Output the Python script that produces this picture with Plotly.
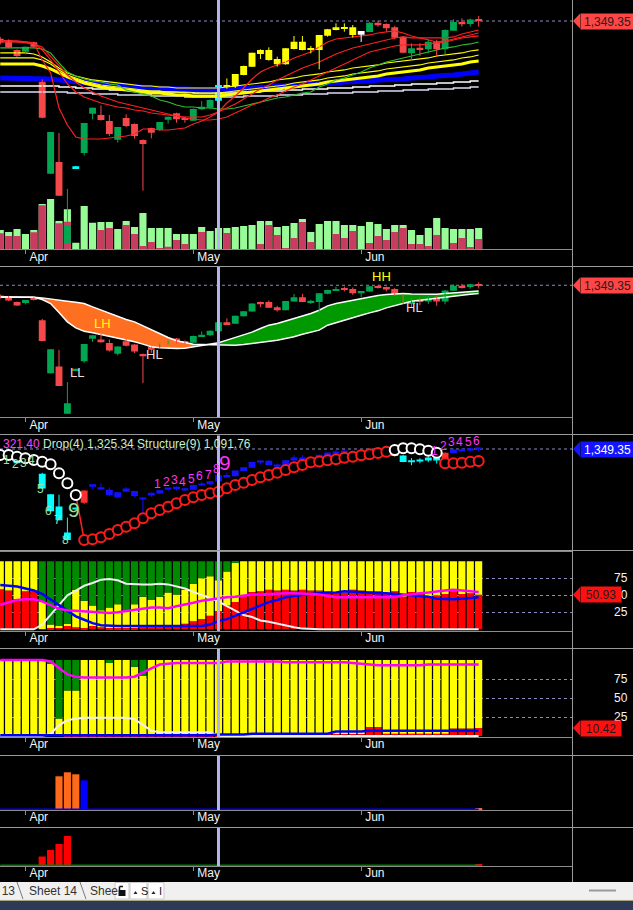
import plotly.graph_objects as go

# ------------------------------------------------------------------ data
bars = list(range(58))
month_names = ['Apr', 'May', 'Jun']
month_bars = [3, 23, 43]
cursor_bar = 26
last_close = 1349.35

opens = [1321.0, 1319.0, 1303.0, 1300.3, 1315.2, 1252.3, 1105.1, 1123.8, 992.8, 1114.0,
         1138.2, 1201.1, 1199.0, 1189.4, 1159.5, 1194.2, 1184.6, 1158.9, 1178.1, 1175.0,
         1191.5, 1201.6, 1193.6, 1189.9, 1208.0, 1210.7, 1221.9, 1246.9, 1242.7, 1263.0,
         1276.3, 1303.0, 1303.0, 1288.5, 1280.0, 1304.6, 1316.3, 1304.0, 1303.0, 1325.9,
         1335.0, 1339.0, 1339.2, 1327.5, 1331.8, 1346.7, 1344.5, 1339.2, 1324.3, 1297.6,
         1306.0, 1304.0, 1316.3, 1304.0, 1333.9, 1347.7, 1344.6, 1352.0]
highs = [1324.0, 1320.0, 1304.0, 1308.3, 1316.3, 1256.0, 1171.8, 1170.2, 1080.6, 1117.5,
         1186.2, 1210.7, 1214.4, 1199.0, 1179.7, 1200.0, 1185.6, 1160.0, 1178.7, 1187.8,
         1196.3, 1202.7, 1196.3, 1209.6, 1221.4, 1224.0, 1247.5, 1257.6, 1264.6, 1277.9,
         1298.7, 1304.0, 1307.2, 1292.3, 1306.0, 1325.4, 1325.4, 1309.3, 1327.0, 1336.6,
         1345.6, 1345.6, 1343.0, 1333.4, 1347.7, 1349.9, 1345.6, 1341.4, 1325.4, 1313.6,
         1313.6, 1320.0, 1318.9, 1336.0, 1352.0, 1353.6, 1353.1, 1357.4]
lows = [1312.0, 1306.0, 1292.0, 1296.0, 1307.2, 1193.6, 1105.0, 1069.9, 992.8, 1113.5,
        1133.9, 1192.0, 1189.9, 1165.4, 1154.7, 1179.7, 1161.1, 1077.9, 1161.6, 1173.9,
        1185.1, 1186.7, 1186.7, 1189.4, 1207.0, 1208.0, 1221.0, 1241.0, 1242.2, 1262.5,
        1275.8, 1288.5, 1285.9, 1276.3, 1279.5, 1304.0, 1302.5, 1297.6, 1272.0, 1324.3,
        1334.4, 1332.3, 1322.7, 1315.8, 1331.2, 1340.3, 1332.3, 1320.0, 1297.6, 1285.9,
        1293.4, 1297.6, 1292.3, 1296.5, 1333.4, 1340.3, 1340.3, 1340.3]
closes = [1315.0, 1307.2, 1293.4, 1308.3, 1308.3, 1194.7, 1171.8, 1069.9, 1021.6, 1117.0,
          1186.2, 1210.7, 1191.0, 1168.6, 1179.7, 1181.4, 1165.4, 1152.6, 1170.7, 1187.8,
          1196.3, 1192.0, 1191.5, 1208.6, 1212.3, 1222.9, 1246.9, 1241.6, 1264.6, 1277.4,
          1298.7, 1296.5, 1287.0, 1280.0, 1305.6, 1316.3, 1303.0, 1304.5, 1327.0, 1336.0,
          1339.2, 1338.5, 1327.0, 1333.4, 1346.7, 1342.4, 1337.6, 1322.7, 1298.7, 1305.6,
          1305.0, 1316.3, 1304.0, 1334.9, 1347.7, 1344.0, 1351.9, 1349.35]

# candle state in the top pane: b = by direction, c = flag, y = run, w = pause
price_state = 'bbb' 'bbb' 'bbb' 'c' 'bbbbbbbb' 'bbbbbbbb' 'c' 'yyyyyyyy' 'yyyyyyyy' 'w' 'bbbbbbb' 'bbbbbbb'
# candle state in the sequential pane: c = setup, r = break, b = count, y = pause
seq_state = 'ccccc' 'ccccc' 'r' 'bbbbbb' 'bbbbbb' 'bbbbbb' 'bbbbbb' 'bbbbbb' 'bbbbbb' 'y' 'ccccc' 'r' 'bbbb'

# volume, thousands
vol_total = [387, 347, 407, 307, 387, 907, 1007, 567, 800, 133,
             867, 533, 547, 547, 407, 567, 447, 727, 427, 427,
             427, 307, 307, 307, 447, 367, 427, 427, 447, 467,
             487, 567, 567, 447, 467, 527, 607, 347, 507, 567,
             567, 487, 487, 467, 547, 507, 407, 487, 487, 387,
             287, 427, 627, 427, 407, 407, 407, 427]
vol_down = [320, 267, 267, 0, 340, 880, 0, 520, 553, 0,
            0, 0, 387, 427, 0, 487, 307, 67, 147, 27,
            53, 187, 107, 0, 347, 0, 0, 327, 0, 0,
            0, 107, 487, 287, 27, 227, 547, 147, 0, 0,
            307, 227, 367, 0, 127, 267, 187, 347, 427, 107,
            107, 67, 287, 0, 127, 227, 47, 207]

ma_red_fast = [1317.4, 1317.4, 1317.4, 1315.8, 1314.2, 1287.0, 1266.2, 1210.2, 1183.0, 1163.8,
               1160.6, 1160.6, 1160.6, 1162.2, 1163.8, 1165.4, 1168.6, 1176.6, 1176.6, 1175.0,
               1175.0, 1176.6, 1178.2, 1184.6, 1189.4, 1195.8, 1203.8, 1218.2, 1229.4, 1242.2,
               1256.6, 1267.8, 1274.2, 1279.0, 1283.8, 1290.2, 1295.0, 1299.8, 1307.8, 1315.8,
               1320.6, 1322.2, 1323.8, 1325.4, 1327.0, 1330.2, 1331.8, 1333.4, 1330.2, 1325.4,
               1322.2, 1322.2, 1322.2, 1322.2, 1323.8, 1328.6, 1331.8, 1335.0]
ma_red_mid = [1317.4, 1317.4, 1315.8, 1315.8, 1314.2, 1303.0, 1287.0, 1267.8, 1248.6, 1235.8,
              1227.8, 1223.0, 1218.2, 1215.0, 1211.8, 1210.2, 1207.0, 1205.4, 1202.2, 1200.6,
              1199.0, 1197.4, 1195.8, 1195.8, 1195.8, 1199.0, 1203.8, 1210.2, 1216.6, 1224.6,
              1232.6, 1240.6, 1247.0, 1255.0, 1261.4, 1267.8, 1274.2, 1279.0, 1283.8, 1290.2,
              1296.6, 1301.4, 1306.2, 1309.4, 1312.6, 1315.8, 1319.0, 1322.2, 1323.8, 1322.2,
              1322.2, 1319.0, 1315.8, 1317.4, 1320.6, 1323.8, 1327.0, 1330.2]
ma_red_slow = [1315.8, 1315.8, 1315.8, 1314.2, 1312.6, 1307.8, 1293.4, 1277.4, 1263.0, 1251.8,
               1242.2, 1235.8, 1229.4, 1224.6, 1219.8, 1216.6, 1213.4, 1210.2, 1207.0, 1203.8,
               1200.6, 1197.4, 1194.2, 1192.6, 1191.0, 1191.0, 1192.6, 1195.8, 1202.2, 1208.6,
               1215.0, 1219.8, 1226.2, 1231.0, 1237.4, 1243.8, 1248.6, 1255.0, 1261.4, 1267.8,
               1274.2, 1280.6, 1287.0, 1293.4, 1299.8, 1303.0, 1306.2, 1309.4, 1311.0, 1311.0,
               1311.0, 1312.6, 1314.2, 1315.8, 1319.0, 1322.2, 1323.8, 1325.4]
ma_green = [1306.2, 1306.2, 1306.2, 1306.2, 1306.2, 1304.6, 1298.2, 1282.2, 1267.8, 1261.4,
            1256.6, 1253.4, 1251.8, 1248.6, 1247.0, 1239.0, 1235.8, 1232.6, 1229.4, 1223.0,
            1219.8, 1215.0, 1211.8, 1211.8, 1210.2, 1210.2, 1208.6, 1208.6, 1210.2, 1213.4,
            1216.6, 1219.8, 1223.0, 1226.2, 1227.8, 1231.0, 1234.2, 1235.8, 1243.8, 1248.6,
            1255.0, 1258.2, 1263.0, 1267.8, 1274.2, 1279.0, 1283.8, 1287.0, 1290.2, 1293.4,
            1296.6, 1299.8, 1303.0, 1306.2, 1307.8, 1311.0, 1312.6, 1315.8]
ma_yellow_1 = [1298.2, 1298.2, 1298.2, 1298.2, 1296.6, 1291.8, 1283.8, 1274.2, 1266.2, 1261.4,
               1258.2, 1255.0, 1253.4, 1251.8, 1250.2, 1248.6, 1247.0, 1245.4, 1245.4, 1243.8,
               1243.8, 1242.2, 1242.2, 1242.2, 1242.2, 1242.2, 1242.2, 1243.8, 1245.4, 1247.0,
               1248.6, 1250.2, 1251.8, 1255.0, 1256.6, 1258.2, 1261.4, 1263.0, 1264.6, 1267.8,
               1269.4, 1271.0, 1274.2, 1275.8, 1277.4, 1279.0, 1282.2, 1283.8, 1285.4, 1287.0,
               1288.6, 1290.2, 1293.4, 1295.0, 1296.6, 1298.2, 1301.4, 1303.0]
ma_yellow_2 = [1290.2, 1290.2, 1290.2, 1290.2, 1290.2, 1287.0, 1280.6, 1271.0, 1263.0, 1258.2,
               1253.4, 1250.2, 1247.0, 1245.4, 1243.8, 1242.2, 1240.6, 1239.0, 1237.4, 1237.4,
               1235.8, 1235.8, 1234.2, 1234.2, 1234.2, 1234.2, 1234.2, 1235.8, 1237.4, 1239.0,
               1240.6, 1242.2, 1243.8, 1245.4, 1247.0, 1250.2, 1251.8, 1253.4, 1255.0, 1258.2,
               1259.8, 1261.4, 1264.6, 1266.2, 1267.8, 1269.4, 1272.6, 1274.2, 1275.8, 1277.4,
               1279.0, 1282.2, 1283.8, 1285.4, 1287.0, 1290.2, 1291.8, 1295.0]
ma_yellow_3 = [1280.6, 1280.6, 1280.6, 1280.6, 1280.6, 1277.4, 1272.6, 1266.2, 1259.8, 1255.0,
               1250.2, 1247.0, 1243.8, 1242.2, 1240.6, 1239.0, 1237.4, 1235.8, 1234.2, 1234.2,
               1232.6, 1231.0, 1231.0, 1229.4, 1229.4, 1229.4, 1229.4, 1231.0, 1232.6, 1234.2,
               1235.8, 1237.4, 1239.0, 1240.6, 1242.2, 1243.8, 1245.4, 1247.0, 1248.6, 1251.8,
               1253.4, 1255.0, 1256.6, 1258.2, 1259.8, 1261.4, 1264.6, 1266.2, 1267.8, 1269.4,
               1271.0, 1274.2, 1275.8, 1277.4, 1279.0, 1280.6, 1283.8, 1285.4]
ma_blue = [1258.2, 1258.2, 1258.2, 1258.2, 1258.2, 1258.2, 1256.6, 1255.0, 1253.4, 1251.8,
           1250.2, 1248.6, 1248.6, 1247.0, 1245.4, 1245.4, 1243.8, 1243.8, 1242.2, 1242.2,
           1240.6, 1240.6, 1240.6, 1239.0, 1239.0, 1239.0, 1239.0, 1240.6, 1240.6, 1242.2,
           1242.2, 1243.8, 1243.8, 1245.4, 1245.4, 1247.0, 1247.0, 1248.6, 1248.6, 1250.2,
           1250.2, 1251.8, 1251.8, 1253.4, 1253.4, 1255.0, 1255.0, 1256.6, 1256.6, 1258.2,
           1258.2, 1259.8, 1261.4, 1261.4, 1263.0, 1264.6, 1266.2, 1267.8]
ma_white_1 = [1245.4, 1245.4, 1245.4, 1245.4, 1245.4, 1245.4, 1245.4, 1243.8, 1243.8, 1242.2,
              1242.2, 1240.6, 1240.6, 1239.0, 1239.0, 1239.0, 1237.4, 1237.4, 1237.4, 1235.8,
              1235.8, 1235.8, 1235.8, 1234.2, 1234.2, 1234.2, 1234.2, 1234.2, 1235.8, 1235.8,
              1235.8, 1237.4, 1237.4, 1237.4, 1239.0, 1239.0, 1240.6, 1240.6, 1240.6, 1242.2,
              1242.2, 1242.2, 1243.8, 1243.8, 1245.4, 1245.4, 1245.4, 1247.0, 1247.0, 1248.6,
              1248.6, 1248.6, 1250.2, 1250.2, 1251.8, 1251.8, 1253.4, 1253.4]
ma_white_2 = [1235.8, 1235.8, 1235.8, 1235.8, 1235.8, 1235.8, 1235.8, 1235.8, 1234.2, 1234.2,
              1234.2, 1232.6, 1232.6, 1232.6, 1231.0, 1231.0, 1231.0, 1231.0, 1229.4, 1229.4,
              1229.4, 1229.4, 1227.8, 1227.8, 1227.8, 1227.8, 1227.8, 1227.8, 1227.8, 1229.4,
              1229.4, 1229.4, 1229.4, 1231.0, 1231.0, 1231.0, 1232.6, 1232.6, 1232.6, 1234.2,
              1234.2, 1234.2, 1235.8, 1235.8, 1235.8, 1237.4, 1237.4, 1237.4, 1239.0, 1239.0,
              1239.0, 1240.6, 1240.6, 1240.6, 1242.2, 1242.2, 1243.8, 1243.8]

# second pane: two averages forming the cloud
cloud_fast = [1317.0, 1317.0, 1317.0, 1317.0, 1316.1, 1309.6, 1298.6, 1273.6, 1247.8, 1231.2,
              1221.9, 1217.3, 1212.7, 1208.1, 1201.6, 1197.0, 1192.4, 1185.9, 1178.5, 1175.8,
              1173.9, 1173.9, 1174.8, 1178.5, 1182.2, 1185.9, 1189.6, 1197.0, 1204.4, 1210.9,
              1219.2, 1229.3, 1238.6, 1243.2, 1249.6, 1256.1, 1263.5, 1270.9, 1280.1, 1292.1,
              1298.6, 1303.2, 1307.8, 1312.4, 1317.0, 1320.7, 1323.5, 1325.3, 1326.3, 1325.3,
              1324.4, 1323.5, 1324.4, 1326.3, 1328.1, 1330.0, 1331.8, 1333.7]
cloud_slow = [1317.0, 1317.0, 1317.0, 1317.0, 1316.1, 1314.3, 1310.6, 1307.8, 1305.0, 1302.3,
              1298.6, 1289.3, 1280.1, 1270.9, 1261.6, 1254.2, 1247.8, 1236.7, 1224.7, 1213.6,
              1204.4, 1195.2, 1189.6, 1185.9, 1185.0, 1184.1, 1183.1, 1183.1, 1183.1, 1185.0,
              1187.8, 1190.5, 1194.2, 1197.0, 1201.6, 1206.2, 1213.6, 1219.2, 1224.7, 1238.6,
              1246.0, 1252.4, 1259.8, 1266.3, 1272.7, 1278.3, 1286.6, 1292.1, 1298.6, 1305.0,
              1307.8, 1310.6, 1314.3, 1317.9, 1320.7, 1322.6, 1324.4, 1326.3]
swing_text = ['LL', 'LH', 'HL', 'HH', 'HL']
swing_bar = [9.1, 12.2, 18.4, 45.4, 49.4]
swing_price = [1108.4, 1244.1, 1158.2, 1374.3, 1288.4]

# third pane: sequential count
seq_close = '321.40'
seq_drop = 'Drop(4) 1,325.34'
seq_structure = 'Structure(9) 1,091.76'
ring_white_bars = [0, 1, 2, 3, 4, 5, 6, 7, 8, 9, 47, 48, 49, 50, 51, 52]
ring_white = [1325.8, 1325.8, 1319.2, 1312.9, 1306.2, 1299.6, 1289.4, 1254.1, 1214.9, 1169.0,
              1345.4, 1352.1, 1352.1, 1348.2, 1342.7, 1334.8]
ring_red_bars = list(range(10, 47)) + [53, 54, 55, 56, 57]
ring_red = [992.6, 995.3, 1003.2, 1016.2, 1031.8, 1044.8, 1058.0, 1077.6, 1097.3, 1110.2,
            1123.3, 1136.5, 1149.4, 1159.9, 1169.0, 1175.7, 1182.0, 1195.3, 1208.2, 1217.3,
            1227.8, 1238.4, 1247.4, 1256.5, 1267.0, 1277.6, 1286.6, 1297.2, 1300.3, 1305.0,
            1309.0, 1315.3, 1319.2, 1324.6, 1328.6, 1333.7, 1338.8,
            1293.3, 1293.3, 1295.6, 1299.6, 1302.3]
buy_count_bars = [1, 2, 3, 4, 5, 6, 7, 8, 9]
buy_count = ['1', '2', '3', '4', '5', '6', '7', '8', '9']
sell_count_bars = [19, 20, 21, 22, 23, 24, 25, 26, 27, 52, 53, 54, 55, 56, 57]
sell_count = ['1', '2', '3', '4', '5', '6', '7', '8', '9', '1', '2', '3', '4', '5', '6']

# fourth pane: 0-100 stacked state + three oscillators
p4_red = [59, 57, 44, 56, 56, 0, 2, 3, 5, 3,
          2, 5, 3, 2, 2, 2, 2, 3, 3, 3,
          4, 6, 8, 12, 15, 20, 27, 35, 40, 50,
          55, 56, 58, 57, 58, 57, 58, 57, 57, 56,
          55, 54, 58, 57, 56, 56, 52, 56, 48, 55,
          53, 47, 50, 52, 56, 52, 53, 50.93]
p4_yellow = [41, 43, 56, 44, 44, 40, 5, 2, 3, 55,
             40, 30, 25, 30, 35, 25, 35, 45, 40, 45,
             50, 45, 50, 55, 60, 58, 45, 50, 58, 50,
             45, 44, 42, 43, 42, 43, 42, 43, 43, 44,
             45, 46, 42, 43, 44, 44, 48, 44, 52, 45,
             47, 53, 50, 48, 44, 48, 47, 49.07]
p4_green = [0, 0, 0, 0, 0, 60, 93, 95, 92, 42,
            58, 65, 72, 68, 63, 73, 63, 52, 57, 52,
            46, 49, 42, 33, 25, 22, 28, 15, 2, 0,
            0, 0, 0, 0, 0, 0, 0, 0, 0, 0,
            0, 0, 0, 0, 0, 0, 0, 0, 0, 0,
            0, 0, 0, 0, 0, 0, 0, 0]
p4_white = [0, 0, 0, 0, 0, 7, 21, 35, 50, 57,
            64, 68, 73, 74, 72, 67, 66, 66, 66, 67,
            66, 63, 60, 55, 50, 45, 41, 34, 27, 21,
            18, 13, 11, 8, 5, 3, 1, 0, 0, 0,
            0, 0, 0, 0, 0, 0, 0, 0, 0, 0,
            0, 0, 0, 0, 0, 0, 0, 0]
p4_blue = [65, 64, 63, 60, 57, 52, 44, 36, 27, 19,
           14, 9, 6, 5, 5, 5, 5, 5, 5, 5,
           5, 5, 5, 5, 5, 7, 12, 15, 20, 25,
           30, 35, 40, 43, 47, 49, 51, 52, 53, 53,
           54, 56, 55, 54, 54, 53, 53, 52, 52, 51,
           50, 48, 45, 44, 44, 45, 46, 47]
p4_magenta = [36, 40, 43, 44, 44, 41, 35, 30, 28, 27,
              26, 25, 24, 24, 25, 27, 29, 31, 32, 32,
              31, 34, 36, 39, 42, 44, 46, 47, 48, 50,
              51, 51, 52, 53, 53, 53, 53, 52, 51, 49,
              47, 47, 47, 47, 46, 46, 46, 47, 50, 52,
              53, 54, 56, 57, 58, 57, 56, 55]

# fifth pane
p5_red = [0, 0, 0, 0, 0, 0, 0, 0, 1, 1,
          1.5, 1.5, 1.5, 1.5, 1.5, 1.5, 1.5, 1.5, 1.5, 1.5,
          1.5, 1.5, 1.5, 1.5, 1.5, 1.5, 2.5, 2.5, 2.5, 2.5,
          2.5, 2.5, 2.5, 2.5, 2.5, 2.5, 2.5, 2.5, 2.5, 2.5,
          2.5, 2.5, 2.5, 2.5, 12, 12, 3, 3, 3, 3,
          3, 3, 3, 3, 10, 10, 10, 10.42]
p5_yellow = [100, 100, 100, 100, 100, 100, 95, 23, 59, 59,
             98.5, 98.5, 98.5, 94.5, 98.5, 98.5, 89.5, 77.5, 98.5, 98.5,
             98.5, 98.5, 98.5, 98.5, 98.5, 98.5, 97.5, 97.5, 97.5, 97.5,
             97.5, 97.5, 97.5, 97.5, 97.5, 97.5, 97.5, 97.5, 97.5, 97.5,
             97.5, 97.5, 97.5, 97.5, 88, 88, 97, 97, 97, 97,
             97, 97, 97, 97, 90, 90, 90, 89.58]
p5_green = [0, 0, 0, 0, 0, 0, 5, 77, 40, 40,
            0, 0, 0, 4, 0, 0, 9, 21, 0, 0,
            0, 0, 0, 0, 0, 0, 0, 0, 0, 0,
            0, 0, 0, 0, 0, 0, 0, 0, 0, 0,
            0, 0, 0, 0, 0, 0, 0, 0, 0, 0,
            0, 0, 0, 0, 0, 0, 0, 0]
p5_white = [0, 0, 0, 0, 0, 0, 3, 14, 21, 23,
            24, 24, 24, 24, 24, 24, 22, 14, 7, 5,
            5, 5, 5, 5, 5, 5, 0, 0, 0, 0,
            0, 0, 0, 0, 0, 0, 0, 0, 0, 0,
            0, 0, 0, 0, 0, 0, 0, 0, 0, 0,
            0, 0, 0, 0, 0, 0, 0, 0]
p5_blue = [1, 1, 1, 1, 1, 1, 1, 1, 1, 1,
           1, 1, 1, 1, 1, 1, 1, 1, 1, 1,
           1, 1, 1, 1, 1, 1, 2, 2, 2, 2,
           3, 3, 3, 3, 3, 3, 3, 3, 3, 3,
           6, 6, 6, 6, 7, 7, 7, 7, 7, 7,
           7, 7, 7, 7, 7, 7, 7, 7]
p5_magenta = [100, 100, 100, 100, 100, 100, 98, 89, 81, 78,
              77, 77, 77, 77, 77, 77, 78, 84, 89, 94,
              95, 96, 96, 96, 96, 96, 96, 98, 98, 98,
              98, 98, 98, 98, 97, 97, 97, 97, 97, 97,
              97, 97, 96, 95, 94, 93, 93, 93, 93, 93,
              93, 94, 94, 94, 94, 94, 94, 94]

# sixth and seventh panes: sparse event histograms
p6_orange_bars = [7, 8, 9, 57]
p6_orange = [33, 37, 35, 1]
p6_blue_bars = [10]
p6_blue = [29]
p7_red_bars = [5, 6, 7, 8, 57]
p7_red = [8.7, 15.3, 21.3, 29.3, 1]

for series in (opens, highs, lows, closes, price_state, seq_state, vol_total, vol_down,
               ma_red_fast, ma_red_mid, ma_red_slow, ma_green, ma_yellow_1, ma_yellow_2,
               ma_yellow_3, ma_blue, ma_white_1, ma_white_2, cloud_fast, cloud_slow,
               p4_red, p4_yellow, p4_green, p4_white, p4_blue, p4_magenta,
               p5_red, p5_yellow, p5_green, p5_white, p5_blue, p5_magenta):
    assert len(series) == len(bars), len(series)
assert len(ring_red) == len(ring_red_bars)

# ------------------------------------------------------------------ layout
W, H = 633, 910
SPLIT = 572.5
FONT = 'Liberation Sans, Arial, sans-serif'
X_RANGE = [-0.03, 68.18]

UP, DOWN = '#00a651', '#f5484b'
PRICE_TONES = {'c': '#00ffff', 'y': '#ffff00', 'w': '#ffffff'}
SEQ_TONES = {'c': '#00ffff', 'r': '#ff3030', 'b': '#1212ff', 'y': '#ffff00'}
LINE_GREY = '#9a9a9a'
CURSOR = '#b4b4f0'
DOTS = '#8c8cc0'

# pane areas in screen pixels (top, bottom) and value ranges
PANES = {
    1: (0, 249.3), 2: (267, 417.3), 3: (435.5, 550.5), 4: (551, 631),
    5: (649, 737), 6: (756, 810), 7: (828, 866),
}
Y_RANGES = {
    'y': [0, 4986], 'y8': [984.1, 1382.95], 'y2': [982.9, 1400.0], 'y3': [951.4, 1402.3],
    'y4': [-2.5, 115.1], 'y5': [-1.3, 114.5], 'y6': [-0.7, 53.3], 'y7': [-0.7, 37.3],
}


def px(x):
    return x / W


def py(y):
    return 1 - y / H


def xname(k):
    return 'x' if k == 1 else f'x{k}'


def yname(k):
    return 'y' if k == 1 else f'y{k}'


def per_px(axis, pane):
    lo, hi = Y_RANGES[axis]
    top, bottom = PANES[pane]
    return (hi - lo) / (bottom - top)


fig = go.Figure()
shapes, notes = [], []


def line(y, k, ya, color, width, x=None, shape='linear'):
    fig.add_trace(go.Scatter(
        x=bars if x is None else x, y=y, mode='lines',
        line=dict(color=color, width=width, shape=shape),
        xaxis=xname(k), yaxis=ya,
    ))


def candles(k, ya, colours, min_body):
    for col in dict.fromkeys(colours):
        xs, ys = [], []
        for i, c in enumerate(colours):
            if c == col:
                xs += [i, i, None]
                ys += [lows[i], highs[i], None]
        fig.add_trace(go.Scatter(x=xs, y=ys, mode='lines', line=dict(color=col, width=1),
                                 xaxis=xname(k), yaxis=ya))
    base, size = [], []
    for o, c in zip(opens, closes):
        lo, hi = min(o, c), max(o, c)
        if hi - lo < min_body:
            mid = (lo + hi) / 2
            lo, hi = mid - min_body / 2, mid + min_body / 2
        base.append(lo)
        size.append(hi - lo)
    fig.add_trace(go.Bar(x=bars, y=size, base=base, width=0.82,
                         marker=dict(color=colours, line=dict(width=0)),
                         xaxis=xname(k), yaxis=ya))


def direction(i):
    return UP if closes[i] >= opens[i] else DOWN


# ---- pane 1: volume underneath, averages and candles on the price axis
fig.add_trace(go.Bar(x=bars, y=vol_total, width=0.85, marker=dict(color='#98fb98', line=dict(width=0)),
                     xaxis='x', yaxis='y'))
fig.add_trace(go.Bar(x=bars, y=vol_down, width=0.85, marker=dict(color='#c83c5f', line=dict(width=0)),
                     xaxis='x', yaxis='y'))
line(ma_white_2, 1, 'y8', '#dcdcf4', 1.5, shape='hv')
line(ma_white_1, 1, 'y8', '#ffffff', 1.5, shape='hv')
line(ma_blue, 1, 'y8', '#0000ff', 5)
line(ma_yellow_3, 1, 'y8', '#ffff00', 3)
line(ma_yellow_2, 1, 'y8', '#ffff00', 1.2)
line(ma_yellow_1, 1, 'y8', '#ffff00', 1.2)
line(ma_green, 1, 'y8', '#2fbf2f', 1.2)
line(ma_red_slow, 1, 'y8', '#ff2020', 1.2)
line(ma_red_mid, 1, 'y8', '#ff2020', 1.2)
line(ma_red_fast, 1, 'y8', '#ff2020', 1.2)
p1_colours = [direction(i) if s == 'b' else PRICE_TONES[s] for i, s in enumerate(price_state)]
candles(1, 'y8', p1_colours, 1.5 * per_px('y8', 1))

# ---- pane 2: cloud + plain candles
cross = next(i for i in range(5, len(bars)) if cloud_fast[i] > cloud_slow[i])
for seg, fill in ((range(0, cross + 1), '#ff6f22'), (range(cross - 1, len(bars)), '#009a00')):
    xs = list(seg)
    line([cloud_slow[i] for i in xs], 2, 'y2', 'rgba(0,0,0,0)', 0, x=xs)
    fig.add_trace(go.Scatter(x=xs, y=[cloud_fast[i] for i in xs], mode='lines',
                             line=dict(width=0, color='rgba(0,0,0,0)'), fill='tonexty',
                             fillcolor=fill, xaxis='x2', yaxis='y2'))
line(cloud_slow, 2, 'y2', '#ffffff', 1.5)
line(cloud_fast, 2, 'y2', '#ffffff', 1.5)
candles(2, 'y2', [direction(i) for i in bars], 1.5 * per_px('y2', 2))
for t, b, p in zip(swing_text, swing_bar, swing_price):
    notes.append(dict(text=t, x=b, y=p, xref='x2', yref='y2', showarrow=False,
                      font=dict(size=13, family=FONT, color='#ffff00' if t.endswith('H') else '#f6d8d8')))

# ---- pane 3: sequential counts
candles(3, 'y3', [SEQ_TONES[s] for s in seq_state], 1.5 * per_px('y3', 3))
line([ring_white[ring_white_bars.index(9)], ring_red[0]], 3, 'y3', '#ff2020', 1.5, x=[9, 10])
fig.add_trace(go.Scatter(x=ring_red_bars, y=ring_red, mode='markers',
                         marker=dict(symbol='circle', size=10, color='#000000',
                                     line=dict(color='#ff1a1a', width=2)),
                         xaxis='x3', yaxis='y3'))
fig.add_trace(go.Scatter(x=ring_white_bars, y=ring_white, mode='markers',
                         marker=dict(symbol='circle', size=10, color='#000000',
                                     line=dict(color='#ffffff', width=2)),
                         xaxis='x3', yaxis='y3'))
for b, t in zip(buy_count_bars, buy_count):
    big = t == '9'
    notes.append(dict(text=t, x=b, y=lows[b], xref='x3', yref='y3', showarrow=False,
                      xshift=-2, yanchor='middle',
                      font=dict(size=21 if big else 12, family=FONT, color='#9ee29e')))
for b, t in zip(sell_count_bars, sell_count):
    big = t == '9'
    notes.append(dict(text=t, x=b, y=highs[b], xref='x3', yref='y3', showarrow=False,
                      xshift=-2, yanchor='bottom', yshift=-4 if big else -3,
                      font=dict(size=21 if big else 12, family=FONT, color='#ff33ff')))
notes.append(dict(text=f'<span style="color:#ff44ff">{seq_close}</span> '
                       f'<span style="color:#c8f0c8">{seq_drop} {seq_structure}</span>',
                  x=px(1), y=py(443.5), xref='paper', yref='paper', xanchor='left',
                  yanchor='middle', showarrow=False, font=dict(size=12, family=FONT)))


# ---- panes 4 and 5: stacked state bars + oscillators
def stacked(k, red, yellow, green):
    ya = yname(k)
    base_y = list(red)
    base_g = [r + y for r, y in zip(red, yellow)]
    for vals, base, col in ((red, None, '#ff0000'), (yellow, base_y, '#ffff00'), (green, base_g, '#008a00')):
        fig.add_trace(go.Bar(x=bars, y=vals, base=base, width=0.85,
                             marker=dict(color=col, line=dict(width=0)),
                             xaxis=xname(k), yaxis=ya))


stacked(4, p4_red, p4_yellow, p4_green)
line(p4_white, 4, 'y4', '#f0f0f0', 2)
line(p4_blue, 4, 'y4', '#0000ff', 2.5)
line(p4_magenta, 4, 'y4', '#ff00ff', 2.5)
stacked(5, p5_red, p5_yellow, p5_green)
line(p5_white, 5, 'y5', '#f0f0f0', 2)
line(p5_blue, 5, 'y5', '#0000ff', 2.5)
line(p5_magenta, 5, 'y5', '#ff00ff', 2.5)

# ---- panes 6 and 7: event bars
shapes.append(dict(type='line', xref='x6', yref='y6', x0=0, x1=bars[-1], y0=0, y1=0,
                   line=dict(color='#0000ff', width=1.5)))
shapes.append(dict(type='line', xref='x7', yref='y7', x0=0, x1=bars[-1], y0=0, y1=0,
                   line=dict(color='#008000', width=1.5)))
fig.add_trace(go.Bar(x=p6_orange_bars, y=p6_orange, width=0.85,
                     marker=dict(color='#ff6a1a', line=dict(width=0)), xaxis='x6', yaxis='y6'))
fig.add_trace(go.Bar(x=p6_blue_bars, y=p6_blue, width=0.85,
                     marker=dict(color='#0000ff', line=dict(width=0)), xaxis='x6', yaxis='y6'))
fig.add_trace(go.Bar(x=p7_red_bars, y=p7_red, width=0.85,
                     marker=dict(color='#ff0000', line=dict(width=0)), xaxis='x7', yaxis='y7'))

# ---- axes
layout_axes = {}
for k, (top, bottom) in PANES.items():
    key = 'xaxis' if k == 1 else f'xaxis{k}'
    layout_axes[key] = dict(
        domain=[0, px(SPLIT)], range=X_RANGE, anchor=yname(k),
        showgrid=False, zeroline=False, showline=True, linecolor='#8c8c8c', linewidth=1,
        ticks='' if k == 3 else 'outside', ticklen=4, tickcolor='#8c8c8c',
        tickvals=month_bars, ticktext=month_names, showticklabels=k != 3,
        ticklabelposition='outside right', ticklabelstandoff=-4, ticklabelshift=3,
        tickfont=dict(color='#f4f4f4', size=12, family=FONT),
    )
    ykey = 'yaxis' if k == 1 else f'yaxis{k}'
    yrange = Y_RANGES[yname(k)]
    yax = dict(domain=[py(bottom), py(top)], range=yrange, anchor=xname(k),
               showticklabels=False, zeroline=False, showline=False, ticks='')
    if k in (4, 5):
        yax.update(showgrid=True, tickvals=[25, 50, 75], gridcolor=DOTS, griddash='dot', gridwidth=1)
    else:
        yax.update(showgrid=False)
    layout_axes[ykey] = yax
layout_axes['yaxis8'] = dict(domain=[py(PANES[1][1]), py(PANES[1][0])], range=Y_RANGES['y8'],
                             overlaying='y', anchor='x', visible=False)

# ---- guides: cursor, last-price dotted lines, separators
for k in PANES:
    shapes.append(dict(type='line', xref=xname(k), yref=f'{yname(k)} domain', x0=cursor_bar,
                       x1=cursor_bar, y0=0, y1=1, line=dict(color=CURSOR, width=3), layer='above'))
for ya in ('y8', 'y2', 'y3'):
    xa = 'x' if ya == 'y8' else 'x' + ya[1:]
    shapes.append(dict(type='line', xref=f'{xa} domain', yref=ya, x0=0, x1=1, y0=last_close,
                       y1=last_close, line=dict(color=DOTS, width=1, dash='dot'), layer='below'))
for y in (266.5, 434.5, 550.5, 648.5, 755.5, 827.5):
    shapes.append(dict(type='line', xref='paper', yref='paper', x0=0, x1=1, y0=py(y), y1=py(y),
                       line=dict(color=LINE_GREY, width=1)))
shapes.append(dict(type='line', xref='paper', yref='paper', x0=px(SPLIT), x1=px(SPLIT),
                   y0=py(0), y1=py(882), line=dict(color=LINE_GREY, width=1)))

# ---- right-hand scale labels and value tags
for k in (4, 5):
    for v in (75, 50, 25):
        notes.append(dict(text=str(v), x=px(630), y=v, xref='paper', yref=yname(k),
                          xanchor='right', yanchor='middle', showarrow=False,
                          font=dict(size=12, family=FONT, color='#f4f4f4')))


def value_tag(text, value, axis, pane, bg, fg, box_w):
    half = 7.5 * per_px(axis, pane)
    shapes.append(dict(type='path', xref='paper', yref=axis, layer='above',
                       path=f'M {px(573)} {value} L {px(580)} {value + half} L {px(580)} {value - half} Z',
                       fillcolor=bg, line=dict(width=0)))
    notes.append(dict(text=text, x=px(580), y=value, xref='paper', yref=axis, xanchor='left',
                      yanchor='middle', showarrow=False, bgcolor=bg, width=box_w, height=15,
                      borderpad=0, font=dict(size=12, family=FONT, color=fg)))


value_tag(f'{last_close:,.2f}', last_close, 'y8', 1, '#ff4646', '#1c1c1c', 53)
value_tag(f'{last_close:,.2f}', last_close, 'y2', 2, '#ff4646', '#1c1c1c', 53)
value_tag(f'{last_close:,.2f}', last_close, 'y3', 3, '#1414ff', '#ffffff', 53)
value_tag(f'{p4_red[-1]:.2f}', p4_red[-1], 'y4', 4, '#ff1010', '#1c1c1c', 40)
value_tag(f'{p5_red[-1]:.2f}', p5_red[-1], 'y5', 5, '#ff1010', '#1c1c1c', 40)


# ---- sheet tabs strip at the bottom
def rect(x0, y0, x1, y1, fill, edge=None):
    return dict(type='rect', xref='paper', yref='paper', x0=px(x0), x1=px(x1), y0=py(y1), y1=py(y0),
                fillcolor=fill, line=dict(color=edge or fill, width=1 if edge else 0))


def seg(x0, y0, x1, y1, color, width=1):
    return dict(type='line', xref='paper', yref='paper', x0=px(x0), x1=px(x1), y0=py(y0), y1=py(y1),
                line=dict(color=color, width=width))


def tri(x, y):
    return dict(type='path', xref='paper', yref='paper', fillcolor='#222222', line=dict(width=0),
                path=f'M {px(x)} {py(y)} L {px(x + 4)} {py(y)} L {px(x + 2)} {py(y - 3)} Z')


shapes += [
    rect(0, 882, 633, 900, '#f0f0f0'),
    seg(17, 882, 23, 899, '#7a7a7a'),
    seg(80, 882, 86, 899, '#7a7a7a'),
    rect(115, 882.5, 129, 899, '#ffffff', '#c8c8c8'),
    rect(118.5, 890, 125.5, 896, '#111111'),
    seg(119.5, 890, 119.5, 886.5, '#111111', 1.5),
    seg(119.5, 886.5, 123, 886.5, '#111111', 1.5),
    rect(130, 882.5, 147, 899, '#ffffff', '#c8c8c8'),
    rect(148, 882.5, 164, 899, '#ffffff', '#c8c8c8'),
    tri(133.5, 894), tri(151.5, 894),
    seg(589, 890.5, 616, 890.5, '#9a9a9a', 2),
    rect(0, 900.5, 633, 910, '#2d3a55'),
    seg(0, 900.2, 633, 900.2, '#f1e3a6'),
]
tab_font = dict(size=12, family=FONT, color='#333333')
notes += [
    dict(text='Sheet 13', x=px(16.5), y=py(890.5), xref='paper', yref='paper', xanchor='right',
         yanchor='middle', showarrow=False, font=tab_font),
    dict(text='Sheet 14', x=px(52.5), y=py(890.5), xref='paper', yref='paper', xanchor='center',
         yanchor='middle', showarrow=False, font=tab_font),
    dict(text='Shee', x=px(87.5), y=py(890.5), xref='paper', yref='paper', xanchor='left',
         yanchor='middle', showarrow=False, font=tab_font),
    dict(text='S', x=px(138.5), y=py(890.5), xref='paper', yref='paper', xanchor='left',
         yanchor='middle', showarrow=False, font=dict(size=11, family=FONT, color='#222222')),
    dict(text='I', x=px(156.5), y=py(890.5), xref='paper', yref='paper', xanchor='left',
         yanchor='middle', showarrow=False, font=dict(size=11, family=FONT, color='#222222')),
]

fig.update_traces(hoverinfo='skip', showlegend=False)
fig.update_layout(
    width=W, height=H, margin=dict(l=0, r=0, t=0, b=0),
    paper_bgcolor='#000000', plot_bgcolor='#000000',
    barmode='overlay', showlegend=False, hovermode=False,
    shapes=shapes, annotations=notes,
    **layout_axes,
)

fig.write_html('out.html', config={'displayModeBar': False},
               post_script="document.body.style.margin='0';")
